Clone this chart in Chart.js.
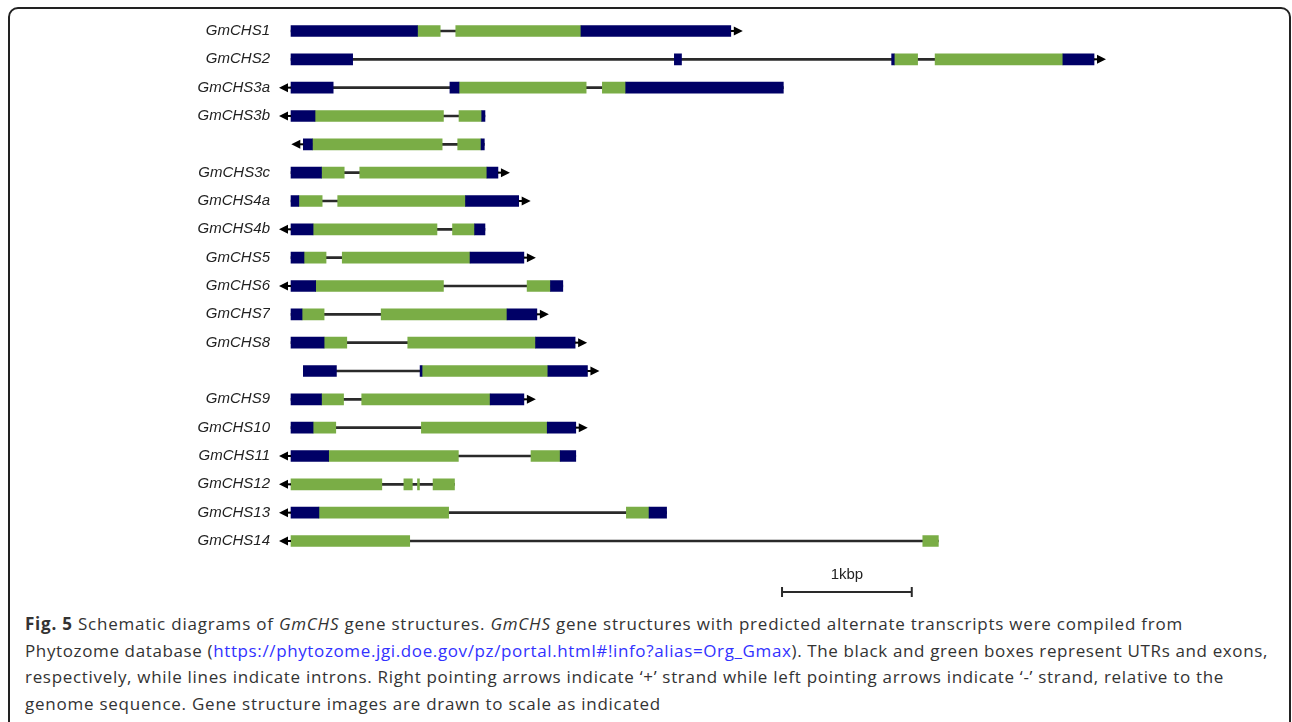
<!DOCTYPE html>
<html>
<head>
<meta charset="utf-8">
<script src="https://cdn.jsdelivr.net/npm/chart.js@4/dist/chart.umd.min.js"></script>
<style>
  html, body { margin: 0; padding: 0; background: #fff; }
  body { width: 1292px; height: 722px; overflow: hidden; position: relative; }
  #frame { position: absolute; left: 8px; top: 7px; width: 1283px; height: 800px;
           border: 2px solid #222; border-radius: 10px; box-sizing: border-box; }
  #wrap { position: absolute; left: 0; top: 0; width: 1292px; height: 610px; }
  #caption { position: absolute; left: 25px; top: 611px; font-family: "Open Sans", sans-serif;
             font-size: 17px; line-height: 26.5px; color: #333; }
  #caption div { white-space: nowrap; width: max-content; }
  #caption a { color: #3232ff; text-decoration: none; }
</style>
</head>
<body>
<div id="frame"></div>
<div id="wrap"><canvas id="chart"></canvas></div>
<div id="caption">
  <div data-w="1158"><b>Fig. 5</b> Schematic diagrams of <i>GmCHS</i> gene structures. <i>GmCHS</i> gene structures with predicted alternate transcripts were compiled from</div>
  <div data-w="1243">Phytozome database (<a>https://phytozome.jgi.doe.gov/pz/portal.html#!info?alias=Org_Gmax</a>). The black and green boxes represent UTRs and exons,</div>
  <div data-w="1199">respectively, while lines indicate introns. Right pointing arrows indicate ‘+’ strand while left pointing arrows indicate ‘-’ strand, relative to the</div>
  <div data-w="636">genome sequence. Gene structure images are drawn to scale as indicated</div>
</div>
<script>
// one row per transcript, top to bottom
const geneNames = ["GmCHS1", "GmCHS2", "GmCHS3a", "GmCHS3b", "", "GmCHS3c", "GmCHS4a", "GmCHS4b",
  "GmCHS5", "GmCHS6", "GmCHS7", "GmCHS8", "", "GmCHS9", "GmCHS10", "GmCHS11", "GmCHS12",
  "GmCHS13", "GmCHS14"];
const strands = ["+", "+", "-", "-", "-", "+", "+", "-", "+", "-", "+", "+", "+", "+", "+", "-", "-", "-", "-"];

// [row, start bp, end bp]
const utrs = [
  [0, 0, 975], [0, 2235, 3390],
  [1, 0, 475], [1, 2955, 3010], [1, 4630, 4650], [1, 5950, 6190],
  [2, 0, 325], [2, 1225, 1295], [2, 2580, 3795],
  [3, 0, 185], [3, 1470, 1495],
  [4, 95, 165], [4, 1465, 1490],
  [5, 0, 235], [5, 1510, 1595],
  [6, 0, 60], [6, 1345, 1755],
  [7, 0, 170], [7, 1415, 1495],
  [8, 0, 100], [8, 1380, 1795],
  [9, 0, 190], [9, 2000, 2095],
  [10, 0, 85], [10, 1665, 1895],
  [11, 0, 255], [11, 1885, 2190],
  [12, 95, 350], [12, 995, 1010], [12, 1980, 2285],
  [13, 0, 235], [13, 1535, 1795],
  [14, 0, 170], [14, 1975, 2195],
  [15, 0, 290], [15, 2075, 2195],
  [17, 0, 215], [17, 2760, 2895]
];
const exons = [
  [0, 975, 1150], [0, 1270, 2235],
  [1, 4650, 4830], [1, 4965, 5950],
  [2, 1295, 2275], [2, 2400, 2580],
  [3, 185, 1175], [3, 1295, 1470],
  [4, 165, 1165], [4, 1285, 1465],
  [5, 235, 410], [5, 530, 1510],
  [6, 60, 240], [6, 360, 1345],
  [7, 170, 1125], [7, 1245, 1415],
  [8, 100, 270], [8, 395, 1380],
  [9, 190, 1175], [9, 1820, 2000],
  [10, 85, 255], [10, 695, 1665],
  [11, 255, 430], [11, 900, 1885],
  [12, 1010, 1980],
  [13, 235, 405], [13, 545, 1535],
  [14, 170, 345], [14, 1005, 1975],
  [15, 290, 1290], [15, 1850, 2075],
  [16, 0, 700], [16, 870, 935], [16, 975, 990], [16, 1095, 1260],
  [17, 215, 1215], [17, 2585, 2760],
  [18, 0, 915], [18, 4870, 4990]
];

const scaleBarStart = 3785;
const scaleBarLength = 1000;
const scaleBarLabel = "1kbp";

const navy = "#000066";
const green = "#7aad46";
const ink = "#2a2a2a";

// intron line spans each transcript from first to last box
const spans = geneNames.map((n, i) => {
  const segs = utrs.concat(exons).filter(s => s[0] === i);
  return [Math.min(...segs.map(s => s[1])), Math.max(...segs.map(s => s[2]))];
});

const toBars = segs => segs.map(s => ({ x: [s[1], s[2]], y: s[0] }));

const strandArrows = {
  id: "strandArrows",
  afterDatasetsDraw(chart) {
    const ctx = chart.ctx, xs = chart.scales.x, ys = chart.scales.y;
    ctx.save();
    ctx.fillStyle = "#000";
    ctx.strokeStyle = "#000";
    ctx.lineWidth = 2;
    spans.forEach((sp, i) => {
      const y = ys.getPixelForValue(i);
      const dir = strands[i] === "+" ? 1 : -1;
      const x0 = xs.getPixelForValue(dir > 0 ? sp[1] : sp[0]);
      ctx.beginPath();
      ctx.moveTo(x0, y);
      ctx.lineTo(x0 + dir * 4, y);
      ctx.stroke();
      ctx.beginPath();
      ctx.moveTo(x0 + dir * 3, y - 4.5);
      ctx.lineTo(x0 + dir * 12, y);
      ctx.lineTo(x0 + dir * 3, y + 4.5);
      ctx.closePath();
      ctx.fill();
    });

    // scale bar
    const a = xs.getPixelForValue(scaleBarStart);
    const b = xs.getPixelForValue(scaleBarStart + scaleBarLength);
    const yb = ys.getPixelForValue(19.8);
    ctx.strokeStyle = ink;
    ctx.beginPath();
    ctx.moveTo(a, yb); ctx.lineTo(b, yb);
    ctx.moveTo(a, yb - 5); ctx.lineTo(a, yb + 5);
    ctx.moveTo(b, yb - 5); ctx.lineTo(b, yb + 5);
    ctx.stroke();
    ctx.fillStyle = "#222";
    ctx.font = "15px 'Liberation Sans', Arial, sans-serif";
    ctx.textAlign = "center";
    ctx.textBaseline = "middle";
    ctx.fillText(scaleBarLabel, (a + b) / 2, ys.getPixelForValue(19.2));
    ctx.restore();
  }
};

new Chart(document.getElementById("chart"), {
  type: "bar",
  data: {
    datasets: [
      { label: "UTR", data: toBars(utrs), backgroundColor: navy, barThickness: 11, order: 1 },
      { label: "exon", data: toBars(exons), backgroundColor: green, barThickness: 11, order: 1 },
      { label: "intron", data: spans.map((sp, i) => ({ x: sp, y: i })), backgroundColor: ink, barThickness: 2, order: 2 }
    ]
  },
  options: {
    indexAxis: "y",
    responsive: true,
    maintainAspectRatio: false,
    animation: false,
    grouped: false,
    layout: { padding: { top: 16.8, bottom: 26.5, left: 0, right: 41 } },
    plugins: { legend: { display: false }, tooltip: { enabled: false } },
    scales: {
      x: { type: "linear", bounds: "data", min: -162, max: 7400, display: false },
      y: {
        type: "linear", bounds: "data", reverse: true, offset: false, min: -0.5, max: 19.5,
        grid: { display: false, drawTicks: false, offset: false },
        border: { display: false },
        afterFit: s => { s.width = 270; },
        afterBuildTicks: s => { s.ticks = geneNames.map((n, i) => ({ value: i })); },
        ticks: {
          padding: 0,
          color: "#222",
          font: { family: "'Liberation Sans', Arial, sans-serif", size: 15, style: "italic" },
          callback: v => geneNames[v]
        }
      }
    }
  },
  plugins: [strandArrows]
});

// stretch each caption line to its measured width
document.querySelectorAll("#caption div").forEach(line => {
  const target = +line.dataset.w;
  const w = line.getBoundingClientRect().width;
  const n = line.textContent.length;
  line.style.letterSpacing = ((target - w) / n) + "px";
});
</script>
</body>
</html>
